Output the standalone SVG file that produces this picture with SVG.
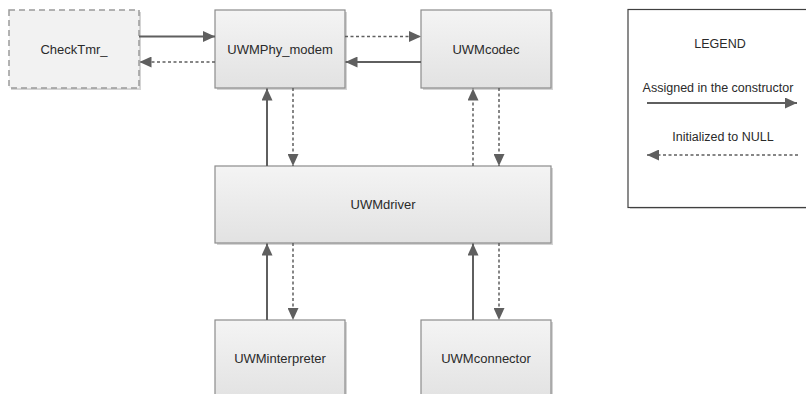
<svg xmlns="http://www.w3.org/2000/svg" width="806" height="394" viewBox="0 0 806 394">
  <defs>
    <linearGradient id="boxFill" x1="0" y1="0" x2="0" y2="1">
      <stop offset="0" stop-color="#f4f4f4"/>
      <stop offset="1" stop-color="#e2e2e2"/>
    </linearGradient>
    <marker id="head" viewBox="0 0 12 11" refX="12" refY="5.5" markerWidth="12" markerHeight="11" markerUnits="userSpaceOnUse" orient="auto">
      <path d="M0,0 L12,5.5 L0,11 Z" fill="#5f5f5f"/>
    </marker>
  </defs>
  <style>
    .shadow { fill: #d4d4d4; }
    .box { fill: url(#boxFill); stroke: #8c8c8c; stroke-width: 1.2; }
    .ghost { fill: #f2f2f2; stroke: #9a9a9a; stroke-width: 1.5; stroke-dasharray: 6 4; }
    .label { font-family: "Liberation Sans", Arial, sans-serif; font-size: 13px; fill: #2a2a2a; text-anchor: middle; dominant-baseline: central; }
    .small { font-size: 12.5px; }
    .solid { stroke: #5f5f5f; stroke-width: 2; fill: none; marker-end: url(#head); }
    .dashed { stroke: #5f5f5f; stroke-width: 1.5; fill: none; stroke-dasharray: 3 2.5; marker-end: url(#head); }
  </style>
  <rect width="806" height="394" fill="#ffffff"/>

  <g id="checktmr">
    <rect class="shadow" x="11" y="12" width="130" height="78"/>
    <rect class="ghost" x="9" y="10" width="130" height="78"/>
    <text class="label" x="74" y="49">CheckTmr_</text>
  </g>

  <g id="uwmphy-modem">
    <rect class="shadow" x="217" y="12" width="130" height="78"/>
    <rect class="box" x="215" y="10" width="130" height="78"/>
    <text class="label" x="280" y="49">UWMPhy_modem</text>
  </g>

  <g id="uwmcodec">
    <rect class="shadow" x="423" y="12" width="130" height="78"/>
    <rect class="box" x="421" y="10" width="130" height="78"/>
    <text class="label" x="486" y="49">UWMcodec</text>
  </g>

  <g id="uwmdriver">
    <rect class="shadow" x="217" y="168" width="336" height="77"/>
    <rect class="box" x="215" y="166" width="336" height="77"/>
    <text class="label" x="383" y="204">UWMdriver</text>
  </g>

  <g id="uwminterpreter">
    <rect class="shadow" x="217" y="322" width="130" height="80"/>
    <rect class="box" x="215" y="320" width="130" height="80"/>
    <text class="label" x="280" y="358">UWMinterpreter</text>
  </g>

  <g id="uwmconnector">
    <rect class="shadow" x="423" y="322" width="130" height="80"/>
    <rect class="box" x="421" y="320" width="130" height="80"/>
    <text class="label" x="486" y="358">UWMconnector</text>
  </g>

  <g id="legend">
    <rect x="630" y="11" width="190" height="198" fill="#d8d8d8"/>
    <rect x="628" y="9.5" width="190" height="198" fill="#ffffff" stroke="#404040" stroke-width="1.2"/>
    <text class="label small" x="720" y="44">LEGEND</text>
    <text class="label small" x="718" y="88">Assigned in the constructor</text>
    <line class="solid" x1="647" y1="103" x2="797" y2="103"/>
    <text class="label small" x="723" y="137">Initialized to NULL</text>
    <line class="dashed" x1="798" y1="155" x2="647" y2="155"/>
  </g>

  <g id="connectors">
    <!-- CheckTmr_ / UWMPhy_modem -->
    <line class="solid" x1="139" y1="36.5" x2="215" y2="36.5"/>
    <line class="dashed" x1="215" y1="62" x2="139.5" y2="62"/>
    <!-- UWMPhy_modem / UWMcodec -->
    <line class="dashed" x1="345" y1="36.5" x2="421" y2="36.5"/>
    <line class="solid" x1="421" y1="62" x2="345.5" y2="62"/>
    <!-- UWMdriver / UWMPhy_modem -->
    <line class="solid" x1="267" y1="166" x2="267" y2="88.5"/>
    <line class="dashed" x1="293" y1="88" x2="293" y2="166"/>
    <!-- UWMdriver / UWMcodec -->
    <line class="dashed" x1="473" y1="166" x2="473" y2="88.5"/>
    <line class="dashed" x1="499" y1="88" x2="499" y2="166"/>
    <!-- UWMinterpreter / UWMdriver -->
    <line class="solid" x1="267" y1="320" x2="267" y2="243.5"/>
    <line class="dashed" x1="293" y1="243" x2="293" y2="320"/>
    <!-- UWMconnector / UWMdriver -->
    <line class="solid" x1="473" y1="320" x2="473" y2="243.5"/>
    <line class="dashed" x1="499" y1="243" x2="499" y2="320"/>
  </g>
</svg>
